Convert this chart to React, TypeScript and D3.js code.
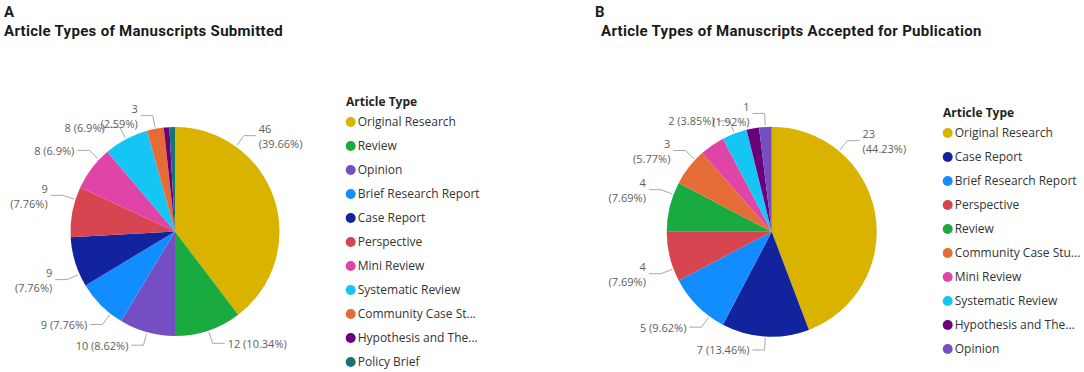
import React from "react";
import * as d3 from "d3";

// ---------- Data ----------
const categoriesA = [
  "Original Research", "Review", "Opinion", "Brief Research Report", "Case Report",
  "Perspective", "Mini Review", "Systematic Review", "Community Case Study",
  "Hypothesis and Theory", "Policy Brief",
];
const legendLabelsA = [
  "Original Research", "Review", "Opinion", "Brief Research Report", "Case Report",
  "Perspective", "Mini Review", "Systematic Review", "Community Case St...",
  "Hypothesis and The...", "Policy Brief",
];
const valuesA = [46, 12, 10, 9, 9, 9, 8, 8, 3, 1, 1];
const hiddenLabelsA = ["Hypothesis and Theory", "Policy Brief"];

const categoriesB = [
  "Original Research", "Case Report", "Brief Research Report", "Perspective", "Review",
  "Community Case Study", "Mini Review", "Systematic Review", "Hypothesis and Theory", "Opinion",
];
const legendLabelsB = [
  "Original Research", "Case Report", "Brief Research Report", "Perspective", "Review",
  "Community Case Stu...", "Mini Review", "Systematic Review", "Hypothesis and The...", "Opinion",
];
const valuesB = [23, 7, 5, 4, 4, 3, 2, 2, 1, 1];
const hiddenLabelsB = ["Mini Review", "Hypothesis and Theory"];

const colorDomain = [
  "Original Research", "Review", "Opinion", "Brief Research Report", "Case Report",
  "Perspective", "Mini Review", "Systematic Review", "Community Case Study",
  "Hypothesis and Theory", "Policy Brief",
];
const colorRange = [
  "#D9B300", "#1AAB40", "#744EC2", "#118DFF", "#12239E",
  "#D64550", "#E044A7", "#15C6F4", "#E66C37", "#6B007B", "#197278",
];
const color = d3.scaleOrdinal<string, string>().domain(colorDomain).range(colorRange);

// ---------- Style ----------
const LABEL_FONT_FAMILY = "'Open Sans', 'Noto Sans', sans-serif";
const LABEL_SIZE = 11;
const LEGEND_SIZE = 12;
const TITLE_FAMILY = "Roboto, 'Noto Sans', sans-serif";

let _canvas: HTMLCanvasElement | null = null;
function textWidth(s: string, font: string): number {
  if (typeof document === "undefined") return s.length * 6;
  if (!_canvas) _canvas = document.createElement("canvas");
  const ctx = _canvas.getContext("2d")!;
  ctx.font = font;
  return ctx.measureText(s).width;
}

function fmtPct(v: number, total: number) {
  return `${+((v / total) * 100).toFixed(2)}%`;
}

type PieProps = {
  letter: string;
  title: string;
  ox: number;
  letterX: number;
  categories: string[];
  legendLabels: string[];
  values: number[];
  hidden: string[];
  cx: number;
  cy: number;
  r: number;
  legendX: number;
  legendY: number;
};

function PieChart(p: PieProps) {
  const total = d3.sum(p.values);
  const pie = d3.pie<number>().sort(null).value((d) => d);
  const arcs = pie(p.values);
  const arcGen = d3.arc<d3.PieArcDatum<number>>().innerRadius(0).outerRadius(p.r);
  const font = `${LABEL_SIZE}px ${LABEL_FONT_FAMILY}`;
  const leftBound = p.cx - 142;
  const rightBound = p.cx + 128;

  type Box = { x0: number; x1: number; y0: number; y1: number };
  const placed: Box[] = [];
  const labels: any[] = [];
  arcs.forEach((a, i) => {
    if (p.hidden.includes(p.categories[i])) return;
    const span = a.endAngle - a.startAngle;
    const mid = (a.startAngle + a.endAngle) / 2;
    const toTop = Math.min(mid, 2 * Math.PI - mid);
    const toBottom = Math.abs(mid - Math.PI);
    let frac = 0.5;
    if (Math.min(toTop, toBottom) > Math.PI / 6) {
      const towardTop = toTop < toBottom;
      if (mid < Math.PI) frac = towardTop ? 0.25 : 0.75;
      else frac = towardTop ? 0.75 : 0.25;
    }
    const th = a.startAngle + span * frac;
    const right = th < Math.PI;
    const ax = p.cx + (p.r + 1.5) * Math.sin(th);
    const ay = p.cy - (p.r + 1.5) * Math.cos(th);
    const ex = p.cx + (p.r + 13.5) * Math.sin(th);
    const ey = p.cy - (p.r + 13.5) * Math.cos(th);
    const hx = ex + (right ? 12 : -12);
    const tx = hx + (right ? 3 : -3);
    const v = p.values[i];
    const pct = fmtPct(v, total);
    const single = `${v} (${pct})`;
    const w = textWidth(single, font);
    let x0 = right ? tx : tx - w;
    let x1 = right ? tx + w : tx;
    let wrap = x0 < leftBound || x1 > rightBound;
    if (!wrap) {
      for (const b of placed) {
        if (ey - 7 < b.y1 && ey + 7 > b.y0 && x0 < b.x1 && x1 > b.x0) wrap = true;
      }
    }
    if (wrap) {
      const w2 = textWidth(`(${pct})`, font);
      x0 = right ? tx : tx - w2;
      x1 = right ? tx + w2 : tx;
      placed.push({ x0, x1, y0: ey - 13, y1: ey + 16 });
    } else {
      placed.push({ x0, x1, y0: ey - 7, y1: ey + 7 });
    }
    labels.push({ key: p.categories[i], ax, ay, ex, ey, hx, tx, right, wrap, v, pct, single });
  });

  return (
    <g>
      <text x={p.letterX} y={17} fontFamily={TITLE_FAMILY} fontWeight={700} fontSize={15} fill="#1a1a1a">
        {p.letter}
      </text>
      <text
        x={p.ox}
        y={36}
        fontFamily={TITLE_FAMILY}
        fontWeight={700}
        fontSize={15}
        letterSpacing={0.3}
        fill="#1a1a1a"
      >
        {p.title}
      </text>
      <g>
        {arcs.map((a, i) => (
          <path
            key={p.categories[i]}
            d={arcGen(a) || ""}
            transform={`translate(${p.cx},${p.cy})`}
            fill={color(p.categories[i])}
          />
        ))}
      </g>
      <g fontFamily={LABEL_FONT_FAMILY} fontSize={LABEL_SIZE} fill="#605E5C">
        {labels.map((l) => (
          <g key={l.key}>
            <polyline
              points={`${l.ax},${l.ay} ${l.ex},${l.ey} ${l.hx},${l.ey}`}
              fill="none"
              stroke="#A8A8A8"
              strokeWidth={1}
            />
            {l.wrap ? (
              <text textAnchor={l.right ? "start" : "end"}>
                <tspan x={l.tx} y={l.ey - 2.5}>{`${l.v}`}</tspan>
                <tspan x={l.tx} y={l.ey + 12.5}>{`(${l.pct})`}</tspan>
              </text>
            ) : (
              <text x={l.tx} y={l.ey + 4.5} textAnchor={l.right ? "start" : "end"}>
                {l.single}
              </text>
            )}
          </g>
        ))}
      </g>
      <g fontFamily={LABEL_FONT_FAMILY}>
        <text x={p.legendX} y={p.legendY} fontSize={LEGEND_SIZE} fontWeight={700} fill="#252423">
          Article Type
        </text>
        {p.legendLabels.map((name, i) => (
          <g key={name} transform={`translate(${p.legendX + 4.7},${p.legendY + 16 + i * 24})`}>
            <circle r={5} fill={color(p.categories[i])} />
            <text x={7} y={4.3} fontSize={LEGEND_SIZE} fill="#333333">
              {name}
            </text>
          </g>
        ))}
      </g>
    </g>
  );
}

export default function App() {
  return (
    <svg
      width={1084}
      height={372}
      style={{ position: "absolute", left: 0, top: 0, background: "#ffffff" }}
    >
      <PieChart
        letter="A"
        title="Article Types of Manuscripts Submitted"
        ox={4}
        letterX={4}
        categories={categoriesA}
        legendLabels={legendLabelsA}
        values={valuesA}
        hidden={hiddenLabelsA}
        cx={175}
        cy={231.5}
        r={104.5}
        legendX={346}
        legendY={106}
      />
      <PieChart
        letter="B"
        title="Article Types of Manuscripts Accepted for Publication"
        ox={601}
        letterX={595}
        categories={categoriesB}
        legendLabels={legendLabelsB}
        values={valuesB}
        hidden={hiddenLabelsB}
        cx={771.7}
        cy={231.7}
        r={105}
        legendX={943}
        legendY={117}
      />
    </svg>
  );
}
